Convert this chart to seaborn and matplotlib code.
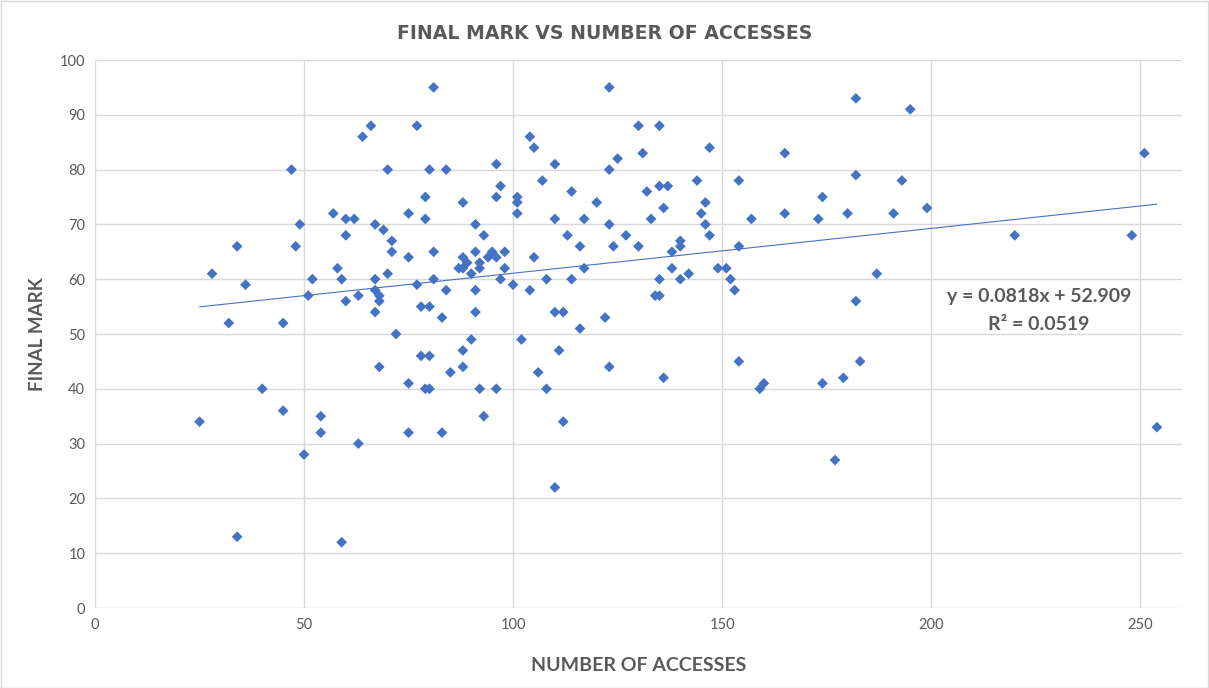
import numpy as np
import pandas as pd
import matplotlib
matplotlib.use("Agg")
import matplotlib.pyplot as plt
import seaborn as sns
from matplotlib.patches import Rectangle

# ---- data ----
accesses = [25, 28, 32, 34, 34, 36, 40, 45, 45, 47, 48, 49, 50, 51, 52, 54, 54, 57, 58, 59,
            59, 60, 60, 60, 62, 63, 63, 64, 66, 67, 67, 67, 67, 68, 68, 68, 69, 70, 70, 71,
            71, 72, 75, 75, 75, 75, 77, 77, 78, 78, 79, 79, 79, 80, 80, 80, 80, 81, 81, 81,
            83, 83, 84, 84, 85, 87, 88, 88, 88, 88, 88, 89, 90, 90, 91, 91, 91, 91, 92, 92,
            92, 93, 93, 94, 95, 96, 96, 96, 96, 97, 97, 98, 98, 100, 101, 101, 101, 102, 104, 105,
            105, 104, 106, 107, 108, 108, 110, 110, 110, 110, 111, 112, 112, 113, 114, 114, 116, 116, 117, 117,
            120, 122, 123, 123, 123, 123, 124, 125, 127, 130, 130, 131, 132, 133, 134, 135, 135, 135, 135, 136,
            136, 137, 138, 138, 140, 140, 140, 142, 144, 145, 146, 146, 147, 147, 149, 151, 152, 153, 154, 154,
            154, 157, 159, 160, 165, 165, 173, 174, 174, 177, 179, 180, 182, 182, 182, 183, 187, 191, 193, 195,
            199, 220, 248, 251, 254]
final_mark = [34, 61, 52, 66, 13, 59, 40, 52, 36, 80, 66, 70, 28, 57, 60, 35, 32, 72, 62, 60,
              12, 71, 68, 56, 71, 57, 30, 86, 88, 70, 60, 58, 54, 57, 56, 44, 69, 80, 61, 67,
              65, 50, 72, 64, 41, 32, 88, 59, 55, 46, 75, 71, 40, 80, 55, 46, 40, 95, 65, 60,
              53, 32, 80, 58, 43, 62, 74, 64, 62, 47, 44, 63, 61, 49, 70, 65, 58, 54, 63, 62,
              40, 68, 35, 64, 65, 81, 75, 64, 40, 77, 60, 65, 62, 59, 75, 74, 72, 49, 86, 84,
              64, 58, 43, 78, 60, 40, 81, 71, 54, 22, 47, 54, 34, 68, 76, 60, 66, 51, 71, 62,
              74, 53, 95, 80, 70, 44, 66, 82, 68, 88, 66, 83, 76, 71, 57, 88, 77, 60, 57, 73,
              42, 77, 65, 62, 67, 66, 60, 61, 78, 72, 74, 70, 84, 68, 62, 62, 60, 58, 78, 66,
              45, 71, 40, 41, 83, 72, 71, 75, 41, 27, 42, 72, 93, 79, 56, 45, 61, 72, 78, 91,
              73, 68, 68, 83, 33]

trend_slope = 0.0818
trend_intercept = 52.909
equation_label = "y = 0.0818x + 52.909"
r2_label = "R² = 0.0519"

title = "FINAL MARK VS NUMBER OF ACCESSES"
x_label = "NUMBER OF ACCESSES"
y_label = "FINAL MARK"
x_ticks = [0, 50, 100, 150, 200, 250]
y_ticks = [0, 10, 20, 30, 40, 50, 60, 70, 80, 90, 100]

df = pd.DataFrame({"accesses": accesses, "mark": final_mark})

# ---- style ----
sns.set_theme(style="white")
plt.rcParams["font.family"] = ["Lato", "DejaVu Sans"]

BLUE = "#4472C4"
GREY_TXT = "#595959"
GRID = "#d9d9d9"

W, H = 1209, 688
fig = plt.figure(figsize=(W / 100, H / 100), dpi=100)
left, right, top, bottom = 95, 1182, 60, 608
ax = fig.add_axes([left / W, 1 - bottom / H, (right - left) / W, (bottom - top) / H])

sns.scatterplot(data=df, x="accesses", y="mark", ax=ax, marker="D", s=30,
                color=BLUE, edgecolor="none", linewidth=0, zorder=3)

xs = np.array([min(accesses), max(accesses)])
trend = pd.DataFrame({"x": xs, "y": trend_slope * xs + trend_intercept})
sns.lineplot(data=trend, x="x", y="y", ax=ax, color=BLUE, linewidth=0.8, zorder=2)

ax.set_xlim(0, 260)
ax.set_ylim(0, 100)
ax.set_xticks(x_ticks)
ax.set_yticks(y_ticks)
ax.grid(True, color=GRID, linewidth=1.0, zorder=0)
ax.set_axisbelow(True)
for s in ax.spines.values():
    s.set_visible(False)
ax.tick_params(axis="both", length=0, labelsize=10.5, colors=GREY_TXT, pad=7)

ax.set_xlabel(x_label, fontsize=14, fontweight="bold", color=GREY_TXT, labelpad=18)
ax.set_ylabel(y_label, fontsize=13.5, fontweight="bold", color=GREY_TXT, labelpad=10)

fig.text(604.5 / W, 1 - 33.5 / H, title, ha="center", va="center",
         fontsize=13.6, fontweight="bold", color=GREY_TXT, family="DejaVu Sans")

ax.text(225.8, 56.8, equation_label, ha="center", va="center", fontsize=14,
        fontweight="bold", color=GREY_TXT)
ax.text(225.8, 51.8, r2_label, ha="center", va="center", fontsize=14,
        fontweight="bold", color=GREY_TXT)

fig.patches.append(Rectangle((0.5 / W, 0.5 / H), 1 - 1.5 / W, 1 - 1.5 / H,
                             transform=fig.transFigure, fill=False,
                             edgecolor=GRID, linewidth=1.0))

fig.savefig("out.png", dpi=100)
